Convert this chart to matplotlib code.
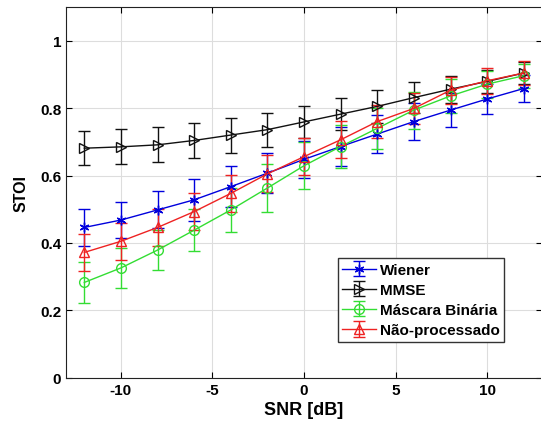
import matplotlib.pyplot as plt
import numpy as np

plt.rcParams['font.family'] = ['Liberation Sans', 'DejaVu Sans']
plt.rcParams['font.weight'] = 'bold'
plt.rcParams['axes.unicode_minus'] = False

snr = [-12, -10, -8, -6, -4, -2, 0, 2, 4, 6, 8, 10, 12]

wiener = [0.446, 0.468, 0.498, 0.528, 0.567, 0.607, 0.648, 0.686, 0.723, 0.760, 0.794, 0.827, 0.858]
wiener_err = [0.055, 0.053, 0.055, 0.063, 0.060, 0.060, 0.055, 0.057, 0.055, 0.055, 0.050, 0.045, 0.040]

mmse = [0.681, 0.685, 0.691, 0.704, 0.720, 0.736, 0.759, 0.782, 0.805, 0.831, 0.856, 0.879, 0.904]
mmse_err = [0.050, 0.052, 0.052, 0.052, 0.052, 0.050, 0.047, 0.047, 0.050, 0.045, 0.040, 0.035, 0.032]

mascara = [0.283, 0.326, 0.379, 0.438, 0.498, 0.563, 0.629, 0.686, 0.740, 0.794, 0.836, 0.871, 0.896]
mascara_err = [0.060, 0.060, 0.060, 0.062, 0.065, 0.070, 0.070, 0.065, 0.060, 0.055, 0.050, 0.040, 0.035]

naoproc = [0.372, 0.405, 0.446, 0.493, 0.547, 0.605, 0.656, 0.706, 0.760, 0.799, 0.853, 0.881, 0.904]
naoproc_err = [0.055, 0.055, 0.055, 0.055, 0.055, 0.055, 0.055, 0.055, 0.050, 0.045, 0.040, 0.038, 0.035]

fig = plt.figure(figsize=(5.41, 4.39), dpi=100)
ax = fig.add_axes([0.122, 0.137, 0.880, 0.845])

series = [
    (wiener, wiener_err, 'Wiener', '#0000dd', (6, 2, 0)),
    (mmse, mmse_err, 'MMSE', '#111111', '>'),
    (mascara, mascara_err, 'Máscara Binária', '#33dd33', 'o'),
    (naoproc, naoproc_err, 'Não-processado', '#ee2222', '^'),
]
for vals, err, name, col, mk in series:
    ax.errorbar(snr, vals, yerr=err, color=col, marker=mk, markersize=7,
                markerfacecolor='none', markeredgecolor=col, linewidth=1,
                elinewidth=1, capsize=4, capthick=1, label=name)

ax.set_xlim(-13, 13)
ax.set_ylim(0, 1.1)
ax.set_xticks([-10, -5, 0, 5, 10])
ax.set_yticks([0, 0.2, 0.4, 0.6, 0.8, 1])
ax.set_yticklabels(['0', '0.2', '0.4', '0.6', '0.8', '1'])
ax.grid(True, color='#dddddd', linewidth=0.8)
ax.set_axisbelow(True)
ax.tick_params(direction='in', top=True, right=True, labelsize=11, length=4)
for s in ax.spines.values():
    s.set_linewidth(0.8)
    s.set_color('#222222')

ax.set_xlabel('SNR [dB]', fontsize=13, fontweight='bold', labelpad=3)
ax.set_ylabel('STOI', fontsize=11.5, fontweight='bold', labelpad=8)

leg = ax.legend(loc='lower right', bbox_to_anchor=(0.92, 0.097), borderaxespad=0,
                fontsize=11, fancybox=False, edgecolor='#333333', framealpha=1,
                handlelength=2.2, handletextpad=0.25, labelspacing=0.4, borderpad=0.3)
leg.get_frame().set_linewidth(1)

fig.savefig('out.png', dpi=100)
